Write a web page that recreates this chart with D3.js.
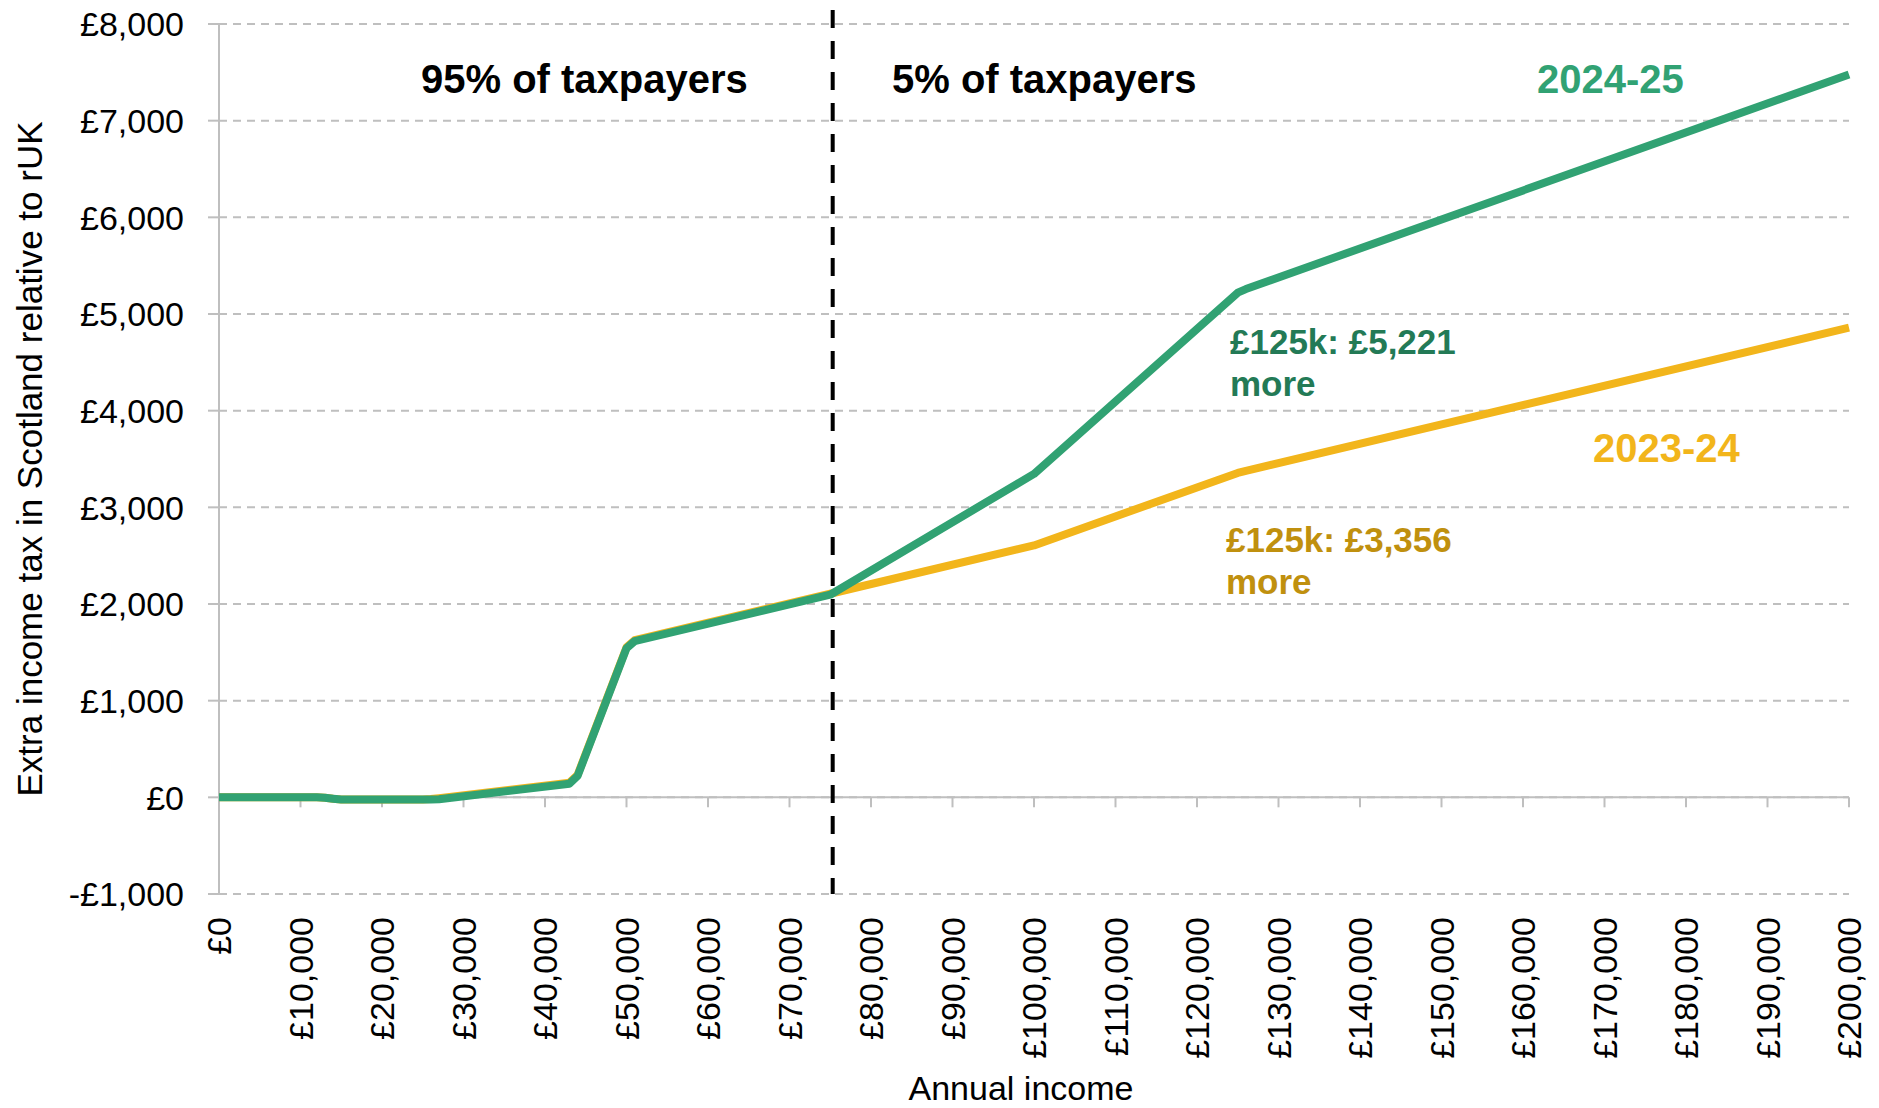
<!DOCTYPE html>
<html>
<head>
<meta charset="utf-8">
<script src="https://cdn.jsdelivr.net/npm/d3@7"></script>
<style>
  html, body { margin: 0; padding: 0; background: #fff; }
  svg { display: block; font-family: "Liberation Sans", Arial, sans-serif; }
</style>
</head>
<body>
<svg id="chart" width="1879" height="1108"></svg>
<script>
// ---- Data ----
const incomes   = [0, 12000, 13000, 14000, 15000, 25000, 26000, 27000, 43000, 44000, 50000, 51000, 75000, 100000, 125000, 126000, 200000];
const extra2324 = [0, 0, -4, -14, -22, -22, -18, -8, 151, 232, 1552, 1626, 2106, 2606, 3356, 3378, 4858];
const extra2425 = [0, 0, -4, -14, -23, -23, -23, -19, 141, 222, 1542, 1616, 2096, 3346, 5221, 5258, 7478];
const xTickValues = [0,10000,20000,30000,40000,50000,60000,70000,80000,90000,100000,110000,120000,130000,140000,150000,160000,170000,180000,190000,200000];
const yTickValues = [-1000,0,1000,2000,3000,4000,5000,6000,7000,8000];
const dividerIncome = 75300;
const seriesNames = ["2023-24", "2024-25"];

// ---- Layout ----
const svg = d3.select("#chart");
const x = d3.scaleLinear().domain([0, 200000]).range([219, 1849]);
const y = d3.scaleLinear().domain([-1000, 8000]).range([894, 24]);
const grey = "#bfbfbf";
const green = "#31a273", greenDark = "#237a56";
const yellow = "#f2b51b", gold = "#c0900e";

const fmt = v => (v < 0 ? "-£" : "£") + d3.format(",")(Math.abs(v));

// gridlines
svg.append("g").selectAll("line").data(yTickValues).join("line")
  .attr("x1", x(0)).attr("x2", x(200000))
  .attr("y1", d => y(d)).attr("y2", d => y(d))
  .attr("stroke", grey).attr("stroke-width", 2).attr("stroke-dasharray", "8,6");

// y axis line + ticks
svg.append("line").attr("x1", x(0)).attr("x2", x(0)).attr("y1", y(8000)).attr("y2", y(-1000))
  .attr("stroke", grey).attr("stroke-width", 2);
svg.append("g").selectAll("line").data(yTickValues).join("line")
  .attr("x1", x(0) - 11).attr("x2", x(0))
  .attr("y1", d => y(d)).attr("y2", d => y(d))
  .attr("stroke", grey).attr("stroke-width", 2);
svg.append("g").selectAll("text").data(yTickValues).join("text")
  .attr("x", 184).attr("y", d => y(d)).attr("dy", "0.36em")
  .attr("text-anchor", "end").attr("font-size", 34).attr("fill", "#000")
  .text(fmt);

// x axis (at zero) + ticks
svg.append("line").attr("x1", x(0)).attr("x2", x(200000)).attr("y1", y(0)).attr("y2", y(0))
  .attr("stroke", grey).attr("stroke-width", 2);
svg.append("g").selectAll("line").data(xTickValues).join("line")
  .attr("x1", d => x(d)).attr("x2", d => x(d))
  .attr("y1", y(0)).attr("y2", y(0) + 10)
  .attr("stroke", grey).attr("stroke-width", 2);
svg.append("g").selectAll("text").data(xTickValues).join("text")
  .attr("transform", d => `translate(${x(d)},917) rotate(-90)`)
  .attr("dy", "0.36em")
  .attr("text-anchor", "end").attr("font-size", 34).attr("fill", "#000")
  .text(fmt);

// axis titles
svg.append("text").attr("x", 1021).attr("y", 1100).attr("text-anchor", "middle")
  .attr("font-size", 34).attr("fill", "#000").text("Annual income");
svg.append("text").attr("transform", `translate(42,459) rotate(-90)`).attr("text-anchor", "middle")
  .attr("font-size", 35).attr("fill", "#000").text("Extra income tax in Scotland relative to rUK");

// divider
svg.append("line").attr("x1", x(dividerIncome)).attr("x2", x(dividerIncome))
  .attr("y1", 10).attr("y2", y(-1000))
  .attr("stroke", "#000").attr("stroke-width", 4).attr("stroke-dasharray", "18,13");

// lines
const line = d3.line().x(d => x(d[0])).y(d => y(d[1]));
const s2324 = incomes.map((v, i) => [v, extra2324[i]]);
const s2425 = incomes.map((v, i) => [v, extra2425[i]]);
svg.append("path").datum(s2324).attr("d", line).attr("fill", "none")
  .attr("stroke", yellow).attr("stroke-width", 8).attr("stroke-linejoin", "round");
svg.append("path").datum(s2425).attr("d", line).attr("fill", "none")
  .attr("stroke", green).attr("stroke-width", 8).attr("stroke-linejoin", "round");

// annotations
const bold = sel => sel.attr("font-weight", "bold");
svg.append("text").attr("x", 421).attr("y", 93).attr("font-size", 40).call(bold).attr("fill", "#000").text("95% of taxpayers");
svg.append("text").attr("x", 892).attr("y", 93).attr("font-size", 40).call(bold).attr("fill", "#000").text("5% of taxpayers");
svg.append("text").attr("x", 1537).attr("y", 93).attr("font-size", 40).call(bold).attr("fill", green).text(seriesNames[1]);
svg.append("text").attr("x", 1593).attr("y", 462).attr("font-size", 40).call(bold).attr("fill", yellow).text(seriesNames[0]);

const lab1 = svg.append("text").attr("font-size", 35).call(bold).attr("fill", greenDark);
lab1.append("tspan").attr("x", 1230).attr("y", 354).text("£125k: £" + d3.format(",")(extra2425[14]));
lab1.append("tspan").attr("x", 1230).attr("y", 396).text("more");
const lab2 = svg.append("text").attr("font-size", 35).call(bold).attr("fill", gold);
lab2.append("tspan").attr("x", 1226).attr("y", 552).text("£125k: £" + d3.format(",")(extra2324[14]));
lab2.append("tspan").attr("x", 1226).attr("y", 594).text("more");
</script>
</body>
</html>
